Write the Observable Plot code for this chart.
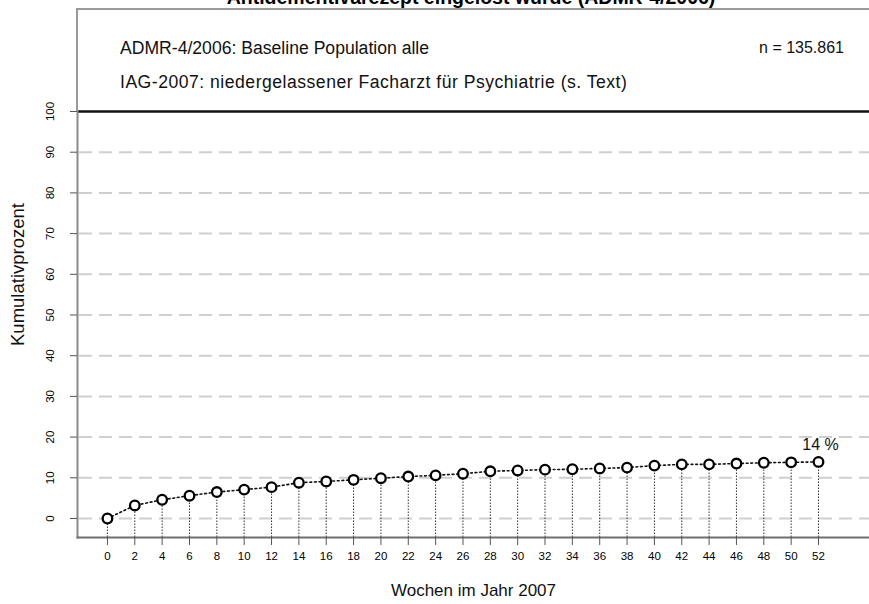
<!DOCTYPE html>
<html>
<head>
<meta charset="utf-8">
<script src="https://cdn.jsdelivr.net/npm/d3@7"></script>
<script src="https://cdn.jsdelivr.net/npm/@observablehq/plot@0.6"></script>
<style>
  html, body { margin: 0; padding: 0; background: #fff; overflow: hidden; }
  #wrap { position: relative; width: 869px; height: 604px; font-family: "Liberation Sans", Arial, sans-serif; }
  #title { position: absolute; left: 0; width: 942px; top: -14px; text-align: center; font-weight: bold; font-size: 19.5px; color: #000; z-index: 2; }
  #box { position: absolute; left: 76px; top: 8px; width: 820px; height: 103px; border: 2px solid #9a9a9a; border-bottom: none; box-sizing: border-box; z-index: 1; }
  .bt { position: absolute; color: #111; white-space: nowrap; }
  svg { position: absolute; left: 0; top: 0; overflow: visible; }
</style>
</head>
<body>
<div id="wrap">
  <div id="title">Antidementivarezept eingelöst wurde (ADMR-4/2006)</div>
  <div id="box">
    <div class="bt" style="left:42px; top:28px; font-size:17.6px;">ADMR-4/2006: Baseline Population alle</div>
    <div class="bt" style="left:42px; top:62px; font-size:17.6px; letter-spacing:0.5px;">IAG-2007: niedergelassener Facharzt für Psychiatrie (s. Text)</div>
    <div class="bt" style="right:50px; top:29px; font-size:16px;">n = 135.861</div>
  </div>
</div>
<script>
const weeks = [0,2,4,6,8,10,12,14,16,18,20,22,24,26,28,30,32,34,36,38,40,42,44,46,48,50,52];
const cumPercent = [0,3.2,4.6,5.6,6.5,7.1,7.7,8.8,9.1,9.5,9.9,10.3,10.6,11.0,11.6,11.8,12.0,12.1,12.3,12.5,13.0,13.3,13.3,13.5,13.7,13.8,13.9];
const yTicks = [0,10,20,30,40,50,60,70,80,90,100];
const gridLevels = [0,10,20,30,40,50,60,70,80,90];
const finalLabel = "14 %";
const xLabel = "Wochen im Jahr 2007";
const yLabel = "Kumulativprozent";

const data = weeks.map((w, i) => ({week: w, pct: cumPercent[i]}));
const yMin = -4.67;

const chart = Plot.plot({
  width: 869,
  height: 604,
  marginLeft: 77,
  marginRight: 0,
  marginTop: 111,
  marginBottom: 67,
  style: {fontFamily: "Liberation Sans, Arial, sans-serif", background: "transparent"},
  x: {domain: [-2.19, 55.73]},
  y: {domain: [yMin, 100]},
  marks: [
    Plot.ruleY(gridLevels, {stroke: "#cfcfcf", strokeWidth: 2, strokeDasharray: "13,7", strokeDashoffset: -2}),
    Plot.ruleY([100], {stroke: "#111", strokeWidth: 2.5}),
    Plot.ruleX(data, {x: "week", y1: yMin, y2: "pct", stroke: "#333", strokeWidth: 1, strokeDasharray: "1.5,1.5"}),
    Plot.line(data, {x: "week", y: "pct", stroke: "#111", strokeWidth: 1.6, strokeDasharray: "1.8,2.8"}),
    Plot.dot(data, {x: "week", y: "pct", r: 4.8, stroke: "#000", strokeWidth: 2.3, fill: "white"}),
    Plot.text(data.filter(d => d.week === 52), {x: "week", y: "pct", text: () => finalLabel, dy: -17, dx: 2, fontSize: 16, fill: "#111"}),
    Plot.frame({anchor: "left", stroke: "#8a8a8a", strokeWidth: 2}),
    Plot.frame({anchor: "bottom", stroke: "#6e6e6e", strokeWidth: 2}),
    Plot.axisX(weeks, {tickSize: 8, tickPadding: 6, fontSize: 11.5, label: null, stroke: "#555"}),
    Plot.axisY(yTicks, {tickSize: 7, tickPadding: 17, tickRotate: -90, fontSize: 11.5, label: null, stroke: "#555"}),
    Plot.text([xLabel], {frameAnchor: "bottom", dy: 58, fontSize: 17, fill: "#111"}),
    Plot.text([yLabel], {frameAnchor: "left", textAnchor: "middle", dx: -59, dy: -50, rotate: -90, fontSize: 18.5, fill: "#111"})
  ]
});
document.getElementById("wrap").prepend(chart);
</script>
</body>
</html>
